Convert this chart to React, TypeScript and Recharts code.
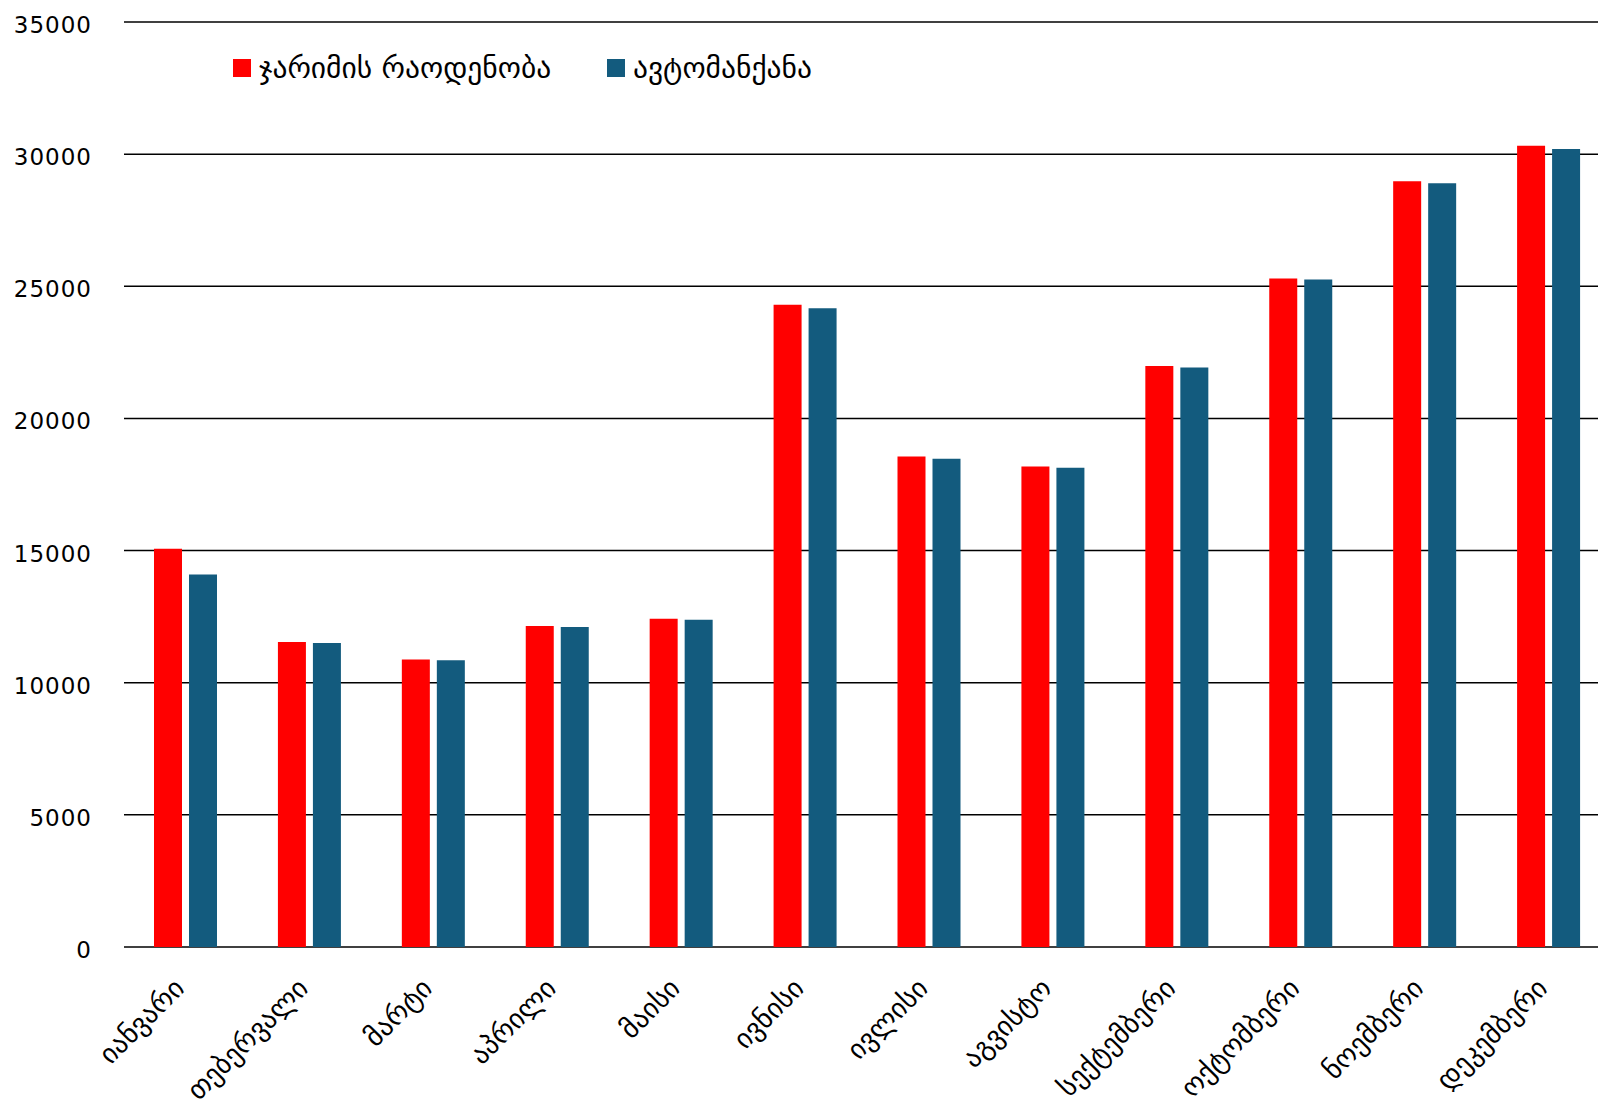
import { BarChart, Bar, XAxis, YAxis, CartesianGrid } from "recharts";

const months = [
  "იანვარი", "თებერვალი", "მარტი", "აპრილი", "მაისი", "ივნისი",
  "ივლისი", "აგვისტო", "სექტემბერი", "ოქტომბერი", "ნოემბერი", "დეკემბერი",
];
const fines = [15070, 11540, 10880, 12150, 12420, 24300, 18560, 18180, 21980, 25290, 28970, 30320];
const cars = [14090, 11500, 10850, 12110, 12380, 24170, 18470, 18130, 21930, 25260, 28900, 30190];
const yTicks = [0, 5000, 10000, 15000, 20000, 25000, 30000, 35000];

const seriesNames = { fines: "ჯარიმის რაოდენობა", cars: "ავტომანქანა" };
const RED = "#ff0000";
const BLUE = "#135b7e";
const FONT = "'DejaVu Sans', sans-serif";

const data = months.map((m, i) => ({ month: m, fines: fines[i], cars: cars[i] }));

function XTick({ x, y, payload }: any) {
  return (
    <g transform={`translate(${x},${y + 43})`}>
      <text x={0} y={0} textAnchor="end" transform="rotate(-45)" fontSize={27.5} fontFamily={FONT} fill="#000">
        {payload.value}
      </text>
    </g>
  );
}

function YTick({ x, y, payload }: any) {
  return (
    <text x={x} y={y + 11} textAnchor="end" fontSize={23} fontFamily={FONT} fill="#000" letterSpacing={1}>
      {payload.value}
    </text>
  );
}

// legend drawn as an overlay so it does not shift the plot area
function LegendBox() {
  const items = [
    { label: seriesNames.fines, color: RED, left: 233 },
    { label: seriesNames.cars, color: BLUE, left: 607 },
  ];
  return (
    <div style={{ position: "absolute", left: 0, top: 50, width: 1598, height: 36 }}>
      {items.map((it) => (
        <div key={it.label} style={{ position: "absolute", left: it.left, top: 0, height: 36, display: "flex", alignItems: "center" }}>
          <span style={{ width: 18, height: 18, background: it.color, display: "inline-block" }} />
          <span style={{ marginLeft: 8, fontSize: 29.5, fontFamily: FONT, color: "#000", whiteSpace: "nowrap" }}>{it.label}</span>
        </div>
      ))}
    </div>
  );
}

export default function App() {
  return (
    <div style={{ position: "fixed", left: 0, top: 0, width: 1598, height: 1110, overflow: "hidden", background: "#fff" }}>
      <BarChart
        width={1620}
        height={1110}
        data={data}
        margin={{ top: 22, right: 9, left: 0, bottom: 13 }}
        barSize={28}
        barGap={7}
      >
        <CartesianGrid vertical={false} stroke="#000" strokeWidth={1.5} />
        <XAxis
          dataKey="month"
          height={150}
          axisLine={false}
          tickLine={false}
          tickSize={0}
          tickMargin={0}
          interval={0}
          tick={<XTick />}
        />
        <YAxis
          width={124}
          domain={[0, 35000]}
          ticks={yTicks}
          axisLine={false}
          tickLine={false}
          tickSize={0}
          tickMargin={32}
          tick={<YTick />}
        />
        <Bar dataKey="fines" name={seriesNames.fines} fill={RED} isAnimationActive={false} />
        <Bar dataKey="cars" name={seriesNames.cars} fill={BLUE} isAnimationActive={false} />
      </BarChart>
      <LegendBox />
    </div>
  );
}
